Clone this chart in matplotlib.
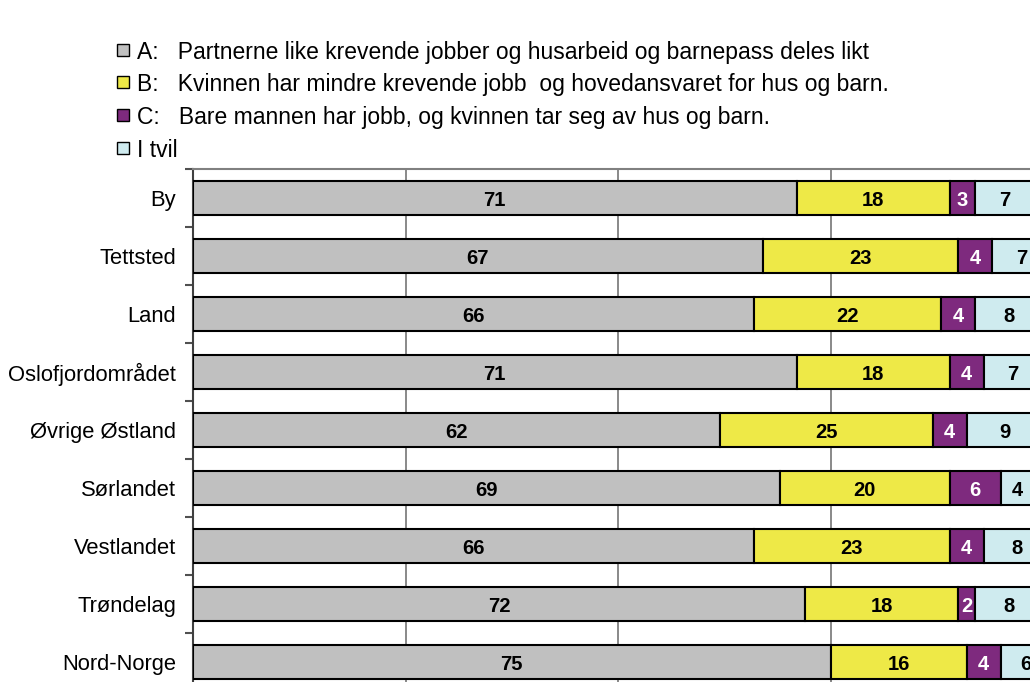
import matplotlib
matplotlib.use("Agg")
import matplotlib.pyplot as plt
from matplotlib.patches import Rectangle
import numpy as np

plt.rcParams['font.family'] = ['Liberation Sans', 'DejaVu Sans']

categories = ["By", "Tettsted", "Land", "Oslofjordområdet", "Øvrige Østland",
              "Sørlandet", "Vestlandet", "Trøndelag", "Nord-Norge"]
series_names = [
    "A:   Partnerne like krevende jobber og husarbeid og barnepass deles likt",
    "B:   Kvinnen har mindre krevende jobb  og hovedansvaret for hus og barn.",
    "C:   Bare mannen har jobb, og kvinnen tar seg av hus og barn.",
    "I tvil",
]
val_a = [71, 67, 66, 71, 62, 69, 66, 72, 75]
val_b = [18, 23, 22, 18, 25, 20, 23, 18, 16]
val_c = [3, 4, 4, 4, 4, 6, 4, 2, 4]
val_d = [7, 7, 8, 7, 9, 4, 8, 8, 6]
colors = ["#C0C0C0", "#EEE947", "#7E2A7E", "#CFEBEF"]
text_colors = ["black", "black", "white", "black"]

W, H = 1030, 682
fig = plt.figure(figsize=(W / 100, H / 100), dpi=100)
fig.patch.set_facecolor("white")

# axes extends beyond the canvas (reference is cropped at right and bottom)
left_px, right_px, top_px, bottom_px = 193, 1043, 169, 691
ax = fig.add_axes([left_px / W, 1 - bottom_px / H,
                   (right_px - left_px) / W, (bottom_px - top_px) / H])

y = np.arange(len(categories))
bar_h = 0.57
left = np.zeros(len(categories))
for vals, col, tcol, name in zip([val_a, val_b, val_c, val_d], colors, text_colors, series_names):
    vals = np.array(vals, dtype=float)
    bars = ax.barh(y, vals, left=left, height=bar_h, color=col,
                   edgecolor="black", linewidth=1.5, label=name, zorder=3)
    for b, v in zip(bars, vals):
        ax.text(b.get_x() + b.get_width() / 2, b.get_y() + b.get_height() / 2,
                f"{v:.0f}", ha="center", va="center_baseline", color=tcol,
                fontsize=14.5, fontweight="bold", zorder=4)
    left += vals

ax.set_xlim(0, 100)
ax.set_ylim(len(categories) - 0.5, -0.5)
ax.set_xticks([0, 25, 50, 75, 100])
ax.tick_params(axis="x", length=0, labelbottom=False)
ax.xaxis.grid(True, color="#808080", linewidth=1.3, zorder=0)
ax.set_axisbelow(True)

ax.set_yticks(y)
ax.set_yticklabels(categories, fontsize=15.8)
ax.set_yticks(np.arange(-0.5, len(categories) + 0.5, 1), minor=True)
ax.tick_params(axis="y", which="major", length=0, pad=12)
ax.tick_params(axis="y", which="minor", length=6, width=1.5, color="#505050", direction="out")

ax.spines["left"].set_color("#404040")
ax.spines["left"].set_linewidth(1.5)
for s in ["top", "right", "bottom"]:
    ax.spines[s].set_color("#808080")
    ax.spines[s].set_linewidth(1.5)

# legend (manual, in pixel positions)
leg_rows = [50, 82, 115, 148]
for name, col, ry in zip(series_names, colors, leg_rows):
    fig.patches.append(Rectangle(((117) / W, 1 - (ry + 6) / H), 12 / W, 12 / H,
                                 transform=fig.transFigure, facecolor=col,
                                 edgecolor="black", linewidth=1.0))
    fig.text(137 / W, 1 - ry / H, name, ha="left", va="center_baseline", fontsize=16.5)

fig.savefig("out.png", dpi=100)
